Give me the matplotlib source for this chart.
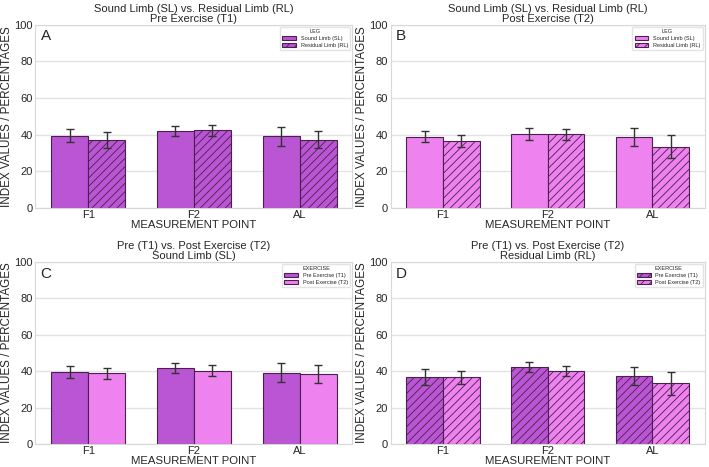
import matplotlib.pyplot as plt
import numpy as np
import seaborn as sns

points = ["F1", "F2", "AL"]

sl_t1 = [39.5, 42.0, 39.2]
sl_t1_err = [3.4, 2.7, 5.2]
rl_t1 = [37.0, 42.4, 37.3]
rl_t1_err = [4.3, 2.9, 4.8]
sl_t2 = [38.8, 40.4, 38.6]
sl_t2_err = [2.9, 3.1, 4.8]
rl_t2 = [36.6, 40.1, 33.3]
rl_t2_err = [3.4, 2.9, 6.3]

PRE_COLOR = "#ba55d3"
POST_COLOR = "#ee82ee"
EDGE = "#4a2050"


def draw_panel(ax, left, right, left_lab, right_lab, colors, hatches,
               title, letter, leg_title):
    x = np.arange(len(points))
    w = 0.35
    for off, (vals, errs), lab, col, hat in zip(
            [-w / 2, w / 2], [left, right], [left_lab, right_lab], colors, hatches):
        ax.bar(x + off, vals, w, color=col, edgecolor=EDGE, linewidth=0.8,
               hatch=hat, label=lab, zorder=2)
        ax.errorbar(x + off, vals, yerr=errs, fmt="none", ecolor="#333333",
                    elinewidth=1.0, capsize=3, capthick=1.0, zorder=3)
    ax.set_xticks(x)
    ax.set_xticklabels(points)
    ax.set_xlim(-0.5, 2.5)
    ax.set_ylim(0, 100)
    ax.set_yticks([0, 20, 40, 60, 80, 100])
    ax.grid(axis="y", color="#e3e3e3", linewidth=1.0, zorder=0)
    ax.grid(axis="x", visible=False)
    ax.set_xlabel("MEASUREMENT POINT", fontsize=8.2, labelpad=0)
    ax.set_ylabel("INDEX VALUES / PERCENTAGES", fontsize=8.4, labelpad=1)
    ax.tick_params(axis="both", labelsize=8, length=0, pad=2)
    ax.tick_params(axis="x", pad=1.5)
    ax.set_title(title, fontsize=8, pad=2, linespacing=1.0)
    ax.text(0.016, 0.975, letter, transform=ax.transAxes, fontsize=11,
            va="top", ha="left")
    leg = ax.legend(title=leg_title, loc="upper right", fontsize=4,
                    title_fontsize=4, frameon=True, borderaxespad=0.4,
                    handlelength=2.5, handleheight=0.8, labelspacing=0.3)
    leg.get_frame().set_edgecolor("#dddddd")
    for s in ax.spines.values():
        s.set_color("#d8d8d8")


def main():
    sns.set_style("whitegrid")
    plt.rcParams["font.family"] = ["Liberation Sans", "DejaVu Sans"]
    plt.rcParams["hatch.linewidth"] = 0.6

    fig = plt.figure(figsize=(7.09, 4.67), dpi=100)
    ax_a = fig.add_axes([0.050, 0.555, 0.447, 0.392])
    ax_b = fig.add_axes([0.551, 0.555, 0.443, 0.392])
    ax_c = fig.add_axes([0.050, 0.049, 0.447, 0.390])
    ax_d = fig.add_axes([0.551, 0.049, 0.443, 0.390])

    draw_panel(ax_a, (sl_t1, sl_t1_err), (rl_t1, rl_t1_err),
               "Sound Limb (SL)", "Residual Limb (RL)",
               [PRE_COLOR, PRE_COLOR], ["", "////"],
               "Sound Limb (SL) vs. Residual Limb (RL)\nPre Exercise (T1)", "A", "LEG")
    draw_panel(ax_b, (sl_t2, sl_t2_err), (rl_t2, rl_t2_err),
               "Sound Limb (SL)", "Residual Limb (RL)",
               [POST_COLOR, POST_COLOR], ["", "////"],
               "Sound Limb (SL) vs. Residual Limb (RL)\nPost Exercise (T2)", "B", "LEG")
    draw_panel(ax_c, (sl_t1, sl_t1_err), (sl_t2, sl_t2_err),
               "Pre Exercise (T1)", "Post Exercise (T2)",
               [PRE_COLOR, POST_COLOR], ["", ""],
               "Pre (T1) vs. Post Exercise (T2)\nSound Limb (SL)", "C", "EXERCISE")
    draw_panel(ax_d, (rl_t1, rl_t1_err), (rl_t2, rl_t2_err),
               "Pre Exercise (T1)", "Post Exercise (T2)",
               [PRE_COLOR, POST_COLOR], ["////", "////"],
               "Pre (T1) vs. Post Exercise (T2)\nResidual Limb (RL)", "D", "EXERCISE")

    fig.savefig("out.png", dpi=100)


if __name__ == "__main__":
    main()
